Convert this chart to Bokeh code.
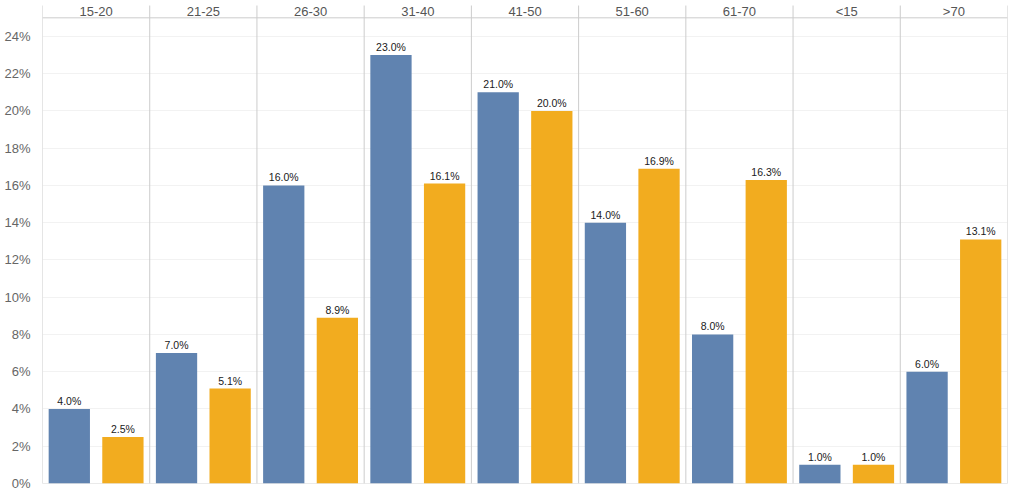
from bokeh.plotting import figure
from bokeh.models import FixedTicker, Range1d, ColumnDataSource
from bokeh.core.properties import value
from bokeh.embed import file_html
from bokeh.resources import INLINE

categories = ["15-20", "21-25", "26-30", "31-40", "41-50", "51-60", "61-70", "<15", ">70"]
series_a = [4.0, 7.0, 16.0, 23.0, 21.0, 14.0, 8.0, 1.0, 6.0]
series_b = [2.5, 5.1, 8.9, 16.1, 20.0, 16.9, 16.3, 1.0, 13.1]
y_ticks = [0, 2, 4, 6, 8, 10, 12, 14, 16, 18, 20, 22, 24]

BLUE = "#6083B0"
GOLD = "#F2AC1F"
FONT = "Liberation Sans"
SEP = "#cccccc"

n = len(categories)
y_top = 25.93       # frame top (page edge)
sep_top = 25.66     # where panel borders begin
header_line = 25.0

p = figure(width=1014, height=492, output_backend="svg", toolbar_location=None,
           x_range=Range1d(0, n), y_range=Range1d(0, y_top),
           min_border_left=42, min_border_right=7, min_border_top=0, min_border_bottom=9)
p.outline_line_color = None
p.xaxis.visible = False
p.xgrid.visible = False
p.ygrid.grid_line_color = "#f2f2f2"
p.ygrid.ticker = FixedTicker(ticks=y_ticks)

ya = p.yaxis[0]
ya.ticker = FixedTicker(ticks=y_ticks)
ya.major_label_overrides = {t: f"{t}%" for t in y_ticks}
ya.axis_line_color = None
ya.major_tick_line_color = None
ya.minor_tick_line_color = None
ya.major_label_text_font = FONT
ya.major_label_text_font_size = "13px"
ya.major_label_text_color = "#666666"
ya.major_label_standoff = 6

idx = list(range(n))
xa = [i + 0.25 for i in idx]
xb = [i + 0.75 for i in idx]

src_a = ColumnDataSource(dict(x=xa, top=series_a, lab=[f"{v:.1f}%" for v in series_a]))
src_b = ColumnDataSource(dict(x=xb, top=series_b, lab=[f"{v:.1f}%" for v in series_b]))

# panel borders, header rule, zero rule
p.segment(x0=idx + [n], y0=[0] * (n + 1), x1=idx + [n], y1=[sep_top] * (n + 1),
          line_color=SEP, line_width=1)
p.segment(x0=[0], y0=[header_line], x1=[n], y1=[header_line], line_color=SEP, line_width=1)
p.segment(x0=[0], y0=[0], x1=[n], y1=[0], line_color="#aaaaaa", line_width=1, line_dash="1 1")

p.vbar(x="x", top="top", bottom=0, width=0.385, source=src_a, fill_color=BLUE, line_color=None)
p.vbar(x="x", top="top", bottom=0, width=0.385, source=src_b, fill_color=GOLD, line_color=None)

for src in (src_a, src_b):
    p.text(x="x", y="top", text="lab", source=src, text_align="center", text_baseline="bottom",
           y_offset=-2, text_font=value(FONT), text_font_size="10.5px", text_color="#1a1a1a")

p.text(x=[i + 0.5 for i in idx], y=[(header_line + sep_top) / 2] * n, text=categories,
       text_align="center", text_baseline="middle", text_font=value(FONT),
       text_font_size="13px", text_color="#555555")

open("out.html", "w").write(file_html(p, INLINE))
